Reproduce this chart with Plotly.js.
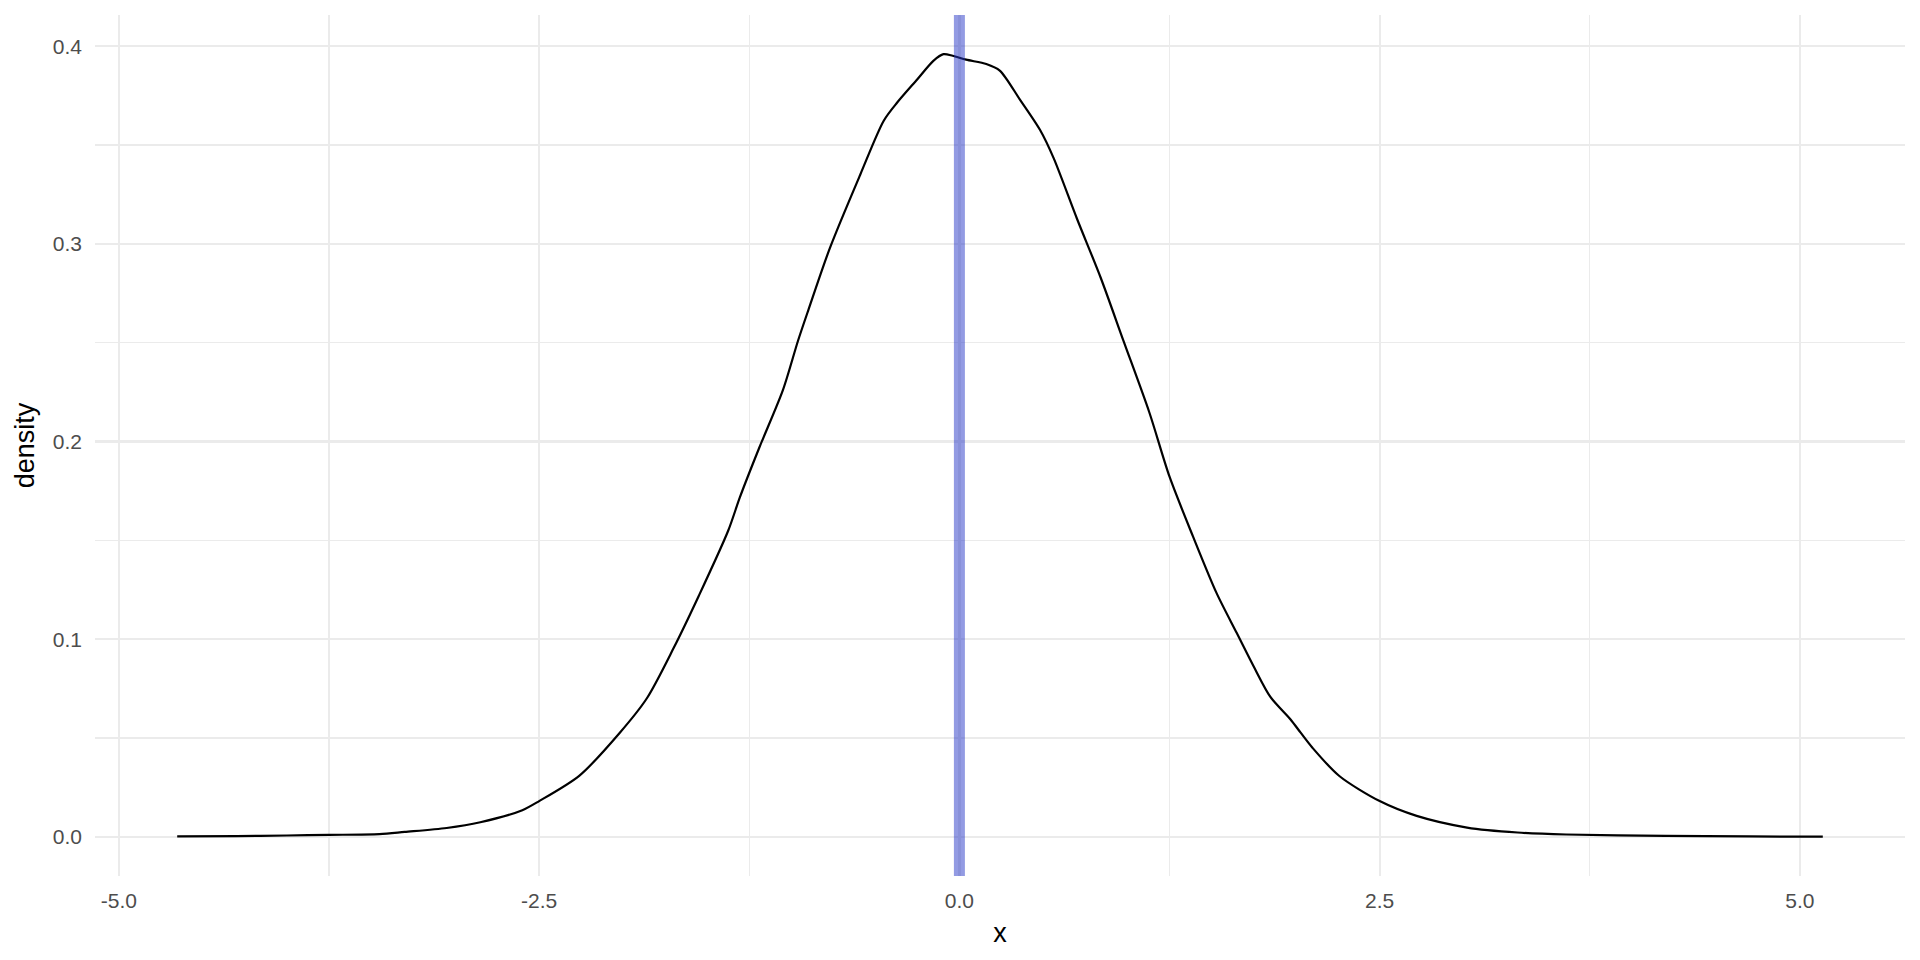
<!DOCTYPE html>
<html>
<head>
<meta charset="utf-8">
<script src="https://cdn.plot.ly/plotly-3.0.1.min.js"></script>
<style>
  html, body { margin: 0; padding: 0; background: #ffffff; }
  #chart { width: 1920px; height: 960px; }
</style>
</head>
<body>
<div id="chart"></div>
<script>
// Density curve
const xValues = [-4.653, -4.3, -4.0, -3.75, -3.45, -3.3, -3.05, -2.85, -2.6, -2.5, -2.26, -2.02, -1.86, -1.70, -1.55,
  -1.375, -1.305, -1.19, -1.05, -0.96, -0.899, -0.77, -0.59, -0.45, -0.37, -0.25, -0.155, -0.095, -0.04,
  0.04, 0.16, 0.24, 0.36, 0.48, 0.56, 0.70, 0.84, 0.975, 1.13, 1.25, 1.39, 1.53, 1.65, 1.75, 1.85, 1.97,
  2.03, 2.1, 2.26, 2.5, 2.72, 3.02, 3.32, 3.61, 4.2, 4.7, 5.136];
const densityValues = [0.0002, 0.0004, 0.0007, 0.001, 0.0014, 0.0025, 0.0045, 0.0074, 0.0135, 0.0181, 0.031, 0.0527, 0.070, 0.0955, 0.122,
  0.155, 0.172, 0.197, 0.226, 0.251, 0.2664, 0.298, 0.335, 0.3623, 0.3715, 0.3833, 0.3926, 0.396, 0.3952,
  0.3932, 0.391, 0.3877, 0.373, 0.3576, 0.3435, 0.3126, 0.283, 0.2512, 0.2147, 0.1822, 0.1519, 0.1233, 0.1031, 0.0863, 0.0708, 0.0594,
  0.0527, 0.0451, 0.0308, 0.0181, 0.0106, 0.0047, 0.0022, 0.0012, 0.0005, 0.0002, 0.0001];
const vlineX = [0];
const xTickVals = [-5.0, -2.5, 0.0, 2.5, 5.0];
const xTickText = ["-5.0", "-2.5", "0.0", "2.5", "5.0"];
const yTickVals = [0.0, 0.1, 0.2, 0.3, 0.4];
const yTickText = ["0.0", "0.1", "0.2", "0.3", "0.4"];

const gridColor = '#EBEBEB';
const fontFamily = '"Liberation Sans", Arial, Helvetica, sans-serif';

const traces = [{
  type: 'scatter',
  mode: 'lines',
  x: xValues,
  y: densityValues,
  line: { color: '#000000', width: 2.2, shape: 'spline', smoothing: 0.8 },
  hoverinfo: 'skip',
  showlegend: false
}];

const shapes = vlineX.map(v => ({
  type: 'line', xref: 'x', yref: 'paper',
  x0: v, x1: v, y0: 0, y1: 1,
  line: { color: 'rgba(40,55,200,0.5)', width: 11 },
  layer: 'above'
}));

const layout = {
  width: 1920, height: 960,
  margin: { l: 95, r: 15, t: 15, b: 84 },
  paper_bgcolor: '#ffffff',
  plot_bgcolor: '#ffffff',
  showlegend: false,
  font: { family: fontFamily, color: '#000000' },
  xaxis: {
    range: [-5.142, 5.625],
    tickmode: 'array', tickvals: xTickVals, ticktext: xTickText,
    showgrid: true, gridcolor: gridColor, gridwidth: 2.2,
    minor: { tickmode: 'array', tickvals: [-3.75, -1.25, 1.25, 3.75], showgrid: true, gridcolor: gridColor, gridwidth: 1.2, ticks: '' },
    zeroline: false, showline: false, ticks: '',
    ticklabelstandoff: 10,
    tickfont: { family: fontFamily, size: 21, color: '#4D4D4D' },
    title: { text: 'x', font: { family: fontFamily, size: 27, color: '#000000' }, standoff: 12 },
    automargin: false
  },
  yaxis: {
    range: [-0.0198, 0.4158],
    tickmode: 'array', tickvals: yTickVals, ticktext: yTickText,
    showgrid: true, gridcolor: gridColor, gridwidth: 2.2,
    minor: { tickmode: 'array', tickvals: [0.05, 0.15, 0.25, 0.35], showgrid: true, gridcolor: gridColor, gridwidth: 1.2, ticks: '' },
    zeroline: false, showline: false, ticks: '',
    ticklabelstandoff: 12,
    tickfont: { family: fontFamily, size: 21, color: '#4D4D4D' },
    title: { text: 'density', font: { family: fontFamily, size: 27, color: '#000000' }, standoff: 10 },
    automargin: false
  },
  shapes: shapes
};

Plotly.newPlot('chart', traces, layout, { staticPlot: true, displayModeBar: false });
</script>
</body>
</html>
